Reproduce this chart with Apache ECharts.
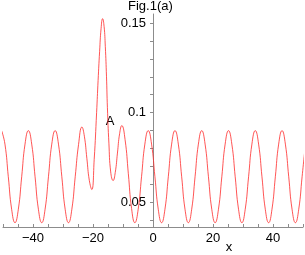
<!DOCTYPE html>
<html>
<head>
<meta charset="utf-8">
<script src="https://cdn.jsdelivr.net/npm/echarts@6/dist/echarts.min.js"></script>
<style>
html,body{margin:0;padding:0;background:#fff;}
#chart{width:305px;height:255px;}
</style>
</head>
<body>
<div id="chart"></div>
<script>
// x positions
const xVals = [
  -50.46, -49.35, -48.23, -47.12, -46.00, -44.89, -43.77, -42.66,
  -41.54, -40.43, -39.31, -38.20, -37.08, -35.97, -34.85, -33.74,
  -32.62, -31.51, -30.39, -29.28, -28.16, -27.05, -25.93, -24.82,
  -23.70, -22.88, -22.05, -21.23, -20.40,
  -19.60, -18.80, -18.30, -17.80, -17.30, -16.80, -16.30, -15.90, -15.50, -15.20, -14.70, -14.10, -13.30,
  -12.58, -11.85, -11.13, -10.40,
  -9.31, -8.22, -7.14, -6.05,
  -4.94, -3.82, -2.71, -1.59, -0.48, 0.64, 1.75, 2.87,
  3.98, 5.10, 6.21, 7.33, 8.44, 9.56, 10.67, 11.79,
  12.90, 14.02, 15.13, 16.25, 17.36, 18.48, 19.59, 20.71,
  21.82, 22.94, 24.05, 25.17, 26.28, 27.40, 28.51, 29.63,
  30.74, 31.86, 32.97, 34.09, 35.20, 36.32, 37.43, 38.55,
  39.66, 40.78, 41.89, 43.01, 44.12, 45.24, 46.35, 47.47,
  48.58, 49.70, 50.81
];
// curve values
const yVals = [
  0.0900, 0.0825, 0.0643, 0.0462, 0.0387, 0.0462, 0.0643, 0.0825,
  0.0900, 0.0825, 0.0643, 0.0462, 0.0387, 0.0462, 0.0643, 0.0825,
  0.0900, 0.0825, 0.0643, 0.0462, 0.0387, 0.0462, 0.0643, 0.0822,
  0.0920, 0.0869, 0.0746, 0.0623, 0.0572,
  0.0740, 0.1000, 0.1180, 0.1340, 0.1470, 0.1524, 0.1480, 0.1370, 0.1200, 0.1030, 0.0830, 0.0670, 0.0622,
  0.0667, 0.0775, 0.0883, 0.0928,
  0.0850, 0.0660, 0.0466, 0.0387,
  0.0462, 0.0643, 0.0825, 0.0900, 0.0825, 0.0643, 0.0462, 0.0387,
  0.0462, 0.0643, 0.0825, 0.0900, 0.0825, 0.0643, 0.0462, 0.0387,
  0.0462, 0.0643, 0.0825, 0.0900, 0.0825, 0.0643, 0.0462, 0.0387,
  0.0462, 0.0643, 0.0825, 0.0900, 0.0825, 0.0643, 0.0462, 0.0387,
  0.0462, 0.0643, 0.0825, 0.0900, 0.0825, 0.0643, 0.0462, 0.0387,
  0.0462, 0.0643, 0.0825, 0.0900, 0.0825, 0.0643, 0.0462, 0.0387,
  0.0462, 0.0643, 0.0825
];
const xLabelVals = [-40, -20, 0, 20, 40];
const xTickVals = [-50, -45, -40, -35, -30, -25, -20, -15, -10, -5, 5, 10, 15, 20, 25, 30, 35, 40, 45, 50];
const yLabelVals = [0.05, 0.1, 0.15];
const yTickVals = [0.04, 0.05, 0.06, 0.07, 0.08, 0.09, 0.1, 0.11, 0.12, 0.13, 0.14, 0.15];
const titleText = 'Fig.1(a)';
const xName = 'x';
const pointLabel = 'A';
const pointLabelAt = [-14.33, 0.0954];

const FONT = "'Liberation Sans', Arial, Helvetica, sans-serif";
const AXIS_COLOR = '#8c8c8c';
const GRID_LEFT = 3, GRID_RIGHT = 2, CW = 305;
const X_MIN = -50, X_MAX = 50;
// shift the y axis from the grid's left edge to x = 0
const yAxisOffset = -((0 - X_MIN) / (X_MAX - X_MIN)) * (CW - GRID_LEFT - GRID_RIGHT);

const chart = echarts.init(document.getElementById('chart'), null, {renderer: 'canvas'});
const data = xVals.map((x, i) => [x, yVals[i]]);

chart.setOption({
  animation: false,
  backgroundColor: '#fff',
  title: {
    text: titleText, left: 128, top: 0, padding: 0,
    textStyle: {fontSize: 13, fontWeight: 'normal', color: '#000', fontFamily: FONT}
  },
  grid: {left: GRID_LEFT, right: GRID_RIGHT, top: 14, bottom: 28, containLabel: false, outerBoundsMode: 'none'},
  xAxis: {
    type: 'value', min: X_MIN, max: X_MAX,
    axisLine: {show: true, onZero: false, lineStyle: {color: AXIS_COLOR, width: 1}},
    axisTick: {show: true, inside: true, length: 3, customValues: xTickVals, lineStyle: {color: AXIS_COLOR}},
    axisLabel: {
      customValues: xLabelVals, fontSize: 13, color: '#000', fontFamily: FONT, margin: 5,
      formatter: v => String(v).replace('-', '\u2212')
    },
    splitLine: {show: false}
  },
  yAxis: {
    type: 'value', min: 0.0363, max: 0.155, position: 'left', offset: yAxisOffset,
    axisLine: {show: true, onZero: false, lineStyle: {color: AXIS_COLOR, width: 1}},
    axisTick: {show: true, length: 3, customValues: yTickVals, lineStyle: {color: AXIS_COLOR}},
    axisLabel: {
      customValues: yLabelVals, fontSize: 13, color: '#000', fontFamily: FONT, margin: 7,
      formatter: v => String(Math.round(v * 100) / 100)
    },
    splitLine: {show: false}
  },
  series: [{
    type: 'line', data: data, showSymbol: false, smooth: 0.5, clip: true,
    lineStyle: {color: '#ff2a2a', width: 0.8}
  }]
});

const pA = chart.convertToPixel({gridIndex: 0}, pointLabelAt);
chart.setOption({
  graphic: [
    {type: 'text', x: pA[0], y: pA[1], style: {text: pointLabel, fontSize: 13, fontFamily: FONT, fill: '#000', align: 'center', verticalAlign: 'middle'}},
    {type: 'text', x: 229, y: 247, style: {text: xName, fontSize: 13, fontFamily: FONT, fill: '#000', align: 'center', verticalAlign: 'middle'}}
  ]
});
</script>
</body>
</html>
